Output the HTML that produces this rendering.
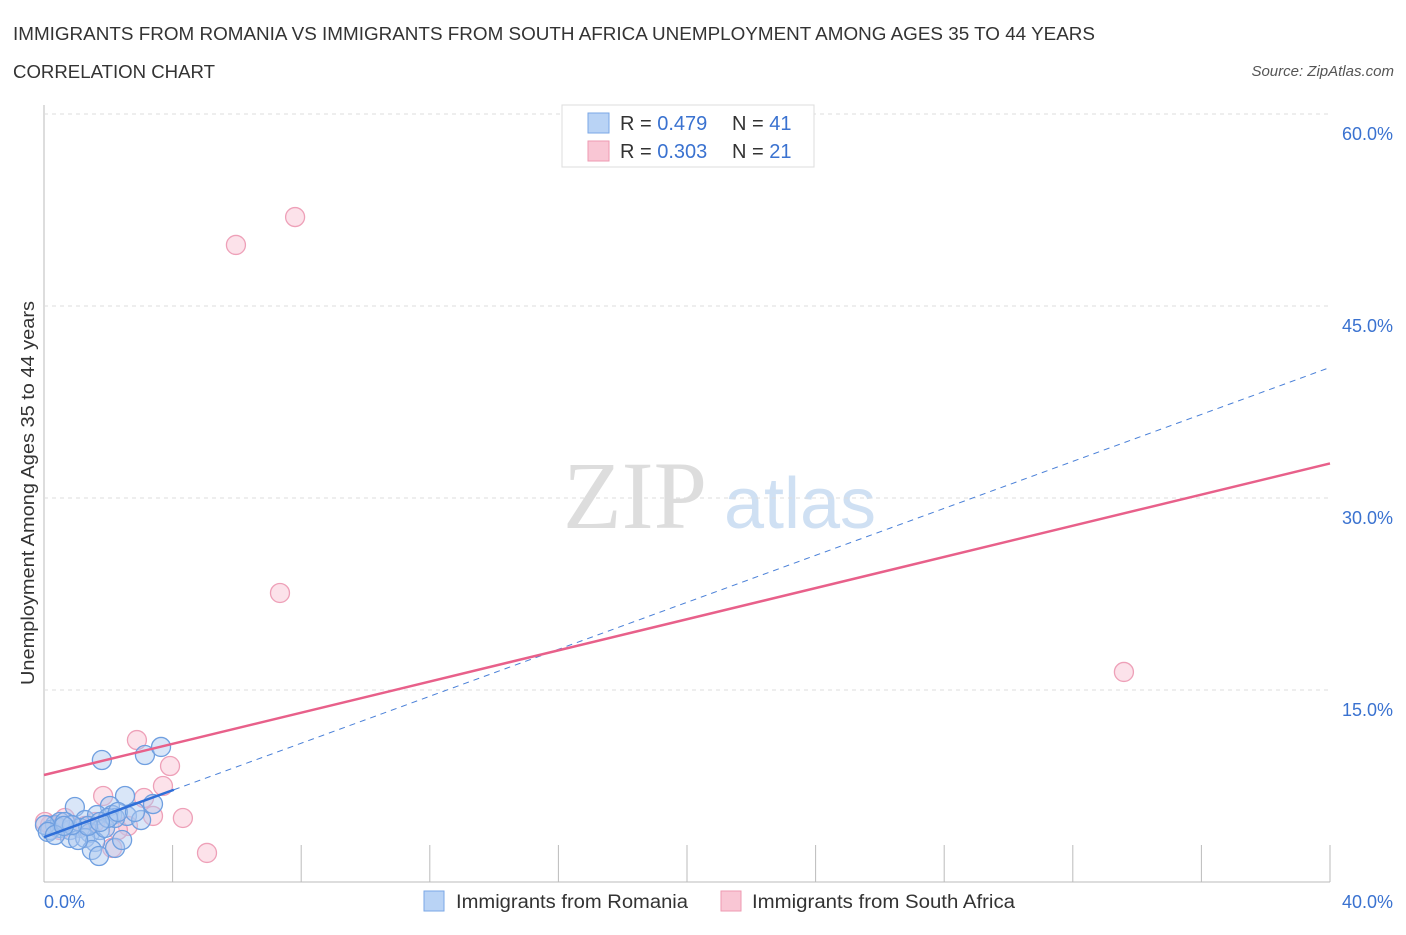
<!DOCTYPE html>
<html><head><meta charset="utf-8"><style>
body{margin:0;background:#fff;font-family:"Liberation Sans",sans-serif;}
svg text{font-family:"Liberation Sans",sans-serif;}
</style></head><body>
<svg id="c" width="1406" height="930" xmlns="http://www.w3.org/2000/svg">
<text x="13" y="40" font-size="18" fill="#333" textLength="1082" lengthAdjust="spacingAndGlyphs">IMMIGRANTS FROM ROMANIA VS IMMIGRANTS FROM SOUTH AFRICA UNEMPLOYMENT AMONG AGES 35 TO 44 YEARS</text>
<text x="13" y="78" font-size="18" fill="#333" textLength="202" lengthAdjust="spacingAndGlyphs">CORRELATION CHART</text>
<text x="1394" y="76" font-size="15" fill="#555" font-style="italic" text-anchor="end">Source: ZipAtlas.com</text>
<text x="635" y="528" font-size="96" fill="#ddd" text-anchor="middle" style="font-family:'Liberation Serif',serif">ZIP</text>
<text x="800" y="528" font-size="72" fill="#cfe0f3" text-anchor="middle">atlas</text>
<text transform="translate(34,493) rotate(-90)" font-size="18" fill="#333" text-anchor="middle" textLength="384" lengthAdjust="spacingAndGlyphs">Unemployment Among Ages 35 to 44 years</text>
<g id="grid"></g><g id="pts"></g><g id="lines"></g>
<g>
<rect x="562" y="105" width="252" height="62" fill="#fff" stroke="#ddd"/>
<rect x="588" y="113" width="21" height="20" fill="#b9d3f5" stroke="#7aa7e6"/>
<rect x="588" y="141" width="21" height="20" fill="#f9c6d4" stroke="#ee9ab2"/>
<text x="620" y="130" font-size="20" fill="#333">R = <tspan fill="#3a72d0">0.479</tspan><tspan x="732">N = </tspan><tspan fill="#3a72d0">41</tspan></text>
<text x="620" y="158" font-size="20" fill="#333">R = <tspan fill="#3a72d0">0.303</tspan><tspan x="732">N = </tspan><tspan fill="#3a72d0">21</tspan></text>
</g>
<g>
<rect x="424" y="891" width="20" height="20" fill="#b9d3f5" stroke="#7aa7e6"/>
<text x="456" y="908" font-size="19" fill="#333" textLength="232" lengthAdjust="spacingAndGlyphs">Immigrants from Romania</text>
<rect x="721" y="891" width="20" height="20" fill="#f9c6d4" stroke="#ee9ab2"/>
<text x="752" y="908" font-size="19" fill="#333" textLength="263" lengthAdjust="spacingAndGlyphs">Immigrants from South Africa</text>
</g>
</svg>
<script>
const blueX=[1.80,3.14,3.64,2.52,2.05,3.39,0.96,1.28,1.65,2.12,2.58,3.02,0.34,0.19,0.50,0.81,1.12,1.43,1.74,0.81,1.28,1.59,1.90,2.21,1.49,1.71,2.21,2.43,0.50,0.03,0.12,0.65,1.06,1.37,1.99,2.30,2.83,1.74,0.87,0.34,0.62];
const blueY=[9.53,9.92,10.55,6.72,5.94,6.09,5.86,4.84,5.23,5.23,5.16,4.84,4.45,4.06,4.22,4.06,4.22,3.83,4.06,3.44,3.44,3.13,4.22,5.00,2.50,2.03,2.66,3.28,4.69,4.45,3.91,4.69,3.28,4.38,5.00,5.47,5.47,4.69,4.45,3.67,4.38];
const pinkX=[7.81,5.97,7.34,33.59,2.89,3.92,3.70,1.84,3.11,4.32,3.39,5.07,2.61,2.30,0.19,0.03,0.50,1.28,1.59,0.65,2.12];
const pinkY=[51.95,49.77,22.58,16.41,11.09,9.06,7.50,6.72,6.56,5.00,5.16,2.27,4.38,4.06,4.45,4.69,4.06,4.38,4.69,5.00,2.66];
const yTicks=[15,30,45,60];
const yTickLabels=["15.0%","30.0%","45.0%","60.0%"];
const xTicks=[0,4,8,12,16,20,24,28,32,36,40];
const blueTrend=[3.5,40.2];
const pinkTrend=[8.36,32.7];
const NS="http://www.w3.org/2000/svg";
const X=v=>44+v*32.15, Y=v=>882-v*12.8;
function mk(t,a,p){const e=document.createElementNS(NS,t);for(const k in a)e.setAttribute(k,a[k]);p.appendChild(e);return e;}
const grid=document.getElementById('grid'),pts=document.getElementById('pts'),lines=document.getElementById('lines');
let ax=mk('line',{x1:44,y1:105,x2:44,y2:882,stroke:'#bbb'},grid);


let bx=mk('line',{x1:44,y1:882,x2:1330,y2:882,stroke:'#bbb'},grid);


yTicks.forEach((t,i)=>{
 const g=mk('line',{x1:44,y1:Y(t),x2:1330,y2:Y(t),stroke:'#ddd','stroke-dasharray':'4,4'},grid);
 
 
 const l=mk('text',{x:1393,y:Y(t)+26,'font-size':18,fill:'#3a72d0','text-anchor':'end'},grid);l.textContent=yTickLabels[i];
 
 
});
xTicks.forEach(t=>{
 const g=mk('line',{x1:X(t),y1:845,x2:X(t),y2:882,stroke:'#bbb'},grid);
 
 
});
[["0.0%",44,'start'],["40.0%",1393,'end']].forEach(a=>{
 const l=mk('text',{x:a[1],y:908,'font-size':18,fill:'#3a72d0','text-anchor':a[2]},grid);l.textContent=a[0];
 
 
});
pinkX.forEach((v,i)=>{
 const c=mk('circle',{cx:X(v),cy:Y(pinkY[i]),r:9.5,fill:'rgba(249,190,208,0.45)',stroke:'#eea0b8','stroke-width':1.3},pts);
 
 
});
blueX.forEach((v,i)=>{
 const c=mk('circle',{cx:X(v),cy:Y(blueY[i]),r:9.5,fill:'rgba(170,200,240,0.45)',stroke:'#6f9fe0','stroke-width':1.3},pts);
 
 
});
const bt=x=>blueTrend[0]+(blueTrend[1]-blueTrend[0])*x/40, pt=x=>pinkTrend[0]+(pinkTrend[1]-pinkTrend[0])*x/40;
let l1=mk('line',{x1:X(4.04),y1:Y(bt(4.04)),x2:X(40),y2:Y(bt(40)),stroke:'#4a80d8','stroke-width':1,'stroke-dasharray':'6,5'},lines);


let l2=mk('line',{x1:X(0),y1:Y(bt(0)),x2:X(4.04),y2:Y(bt(4.04)),stroke:'#2f6fd8','stroke-width':2.5},lines);


let l3=mk('line',{x1:X(0),y1:Y(pt(0)),x2:X(40),y2:Y(pt(40)),stroke:'#e8608a','stroke-width':2.5},lines);


</script>
</body></html>
